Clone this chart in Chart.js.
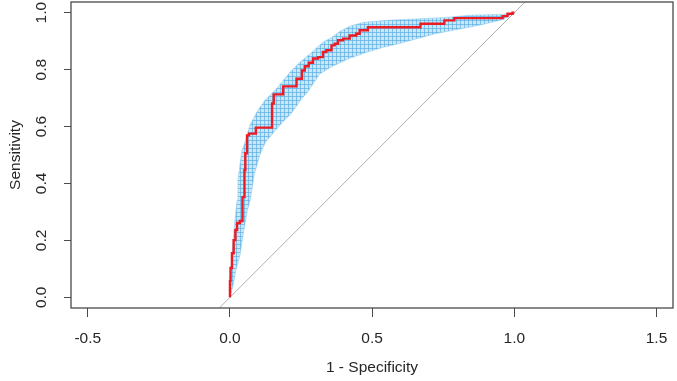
<!DOCTYPE html>
<html>
<head>
<meta charset="utf-8">
<script src="https://cdn.jsdelivr.net/npm/chart.js@4.4.1/dist/chart.umd.min.js"></script>
<style>
  html, body { margin: 0; padding: 0; background: #fff; }
</style>
</head>
<body>
<canvas id="roc" width="677" height="381"></canvas>
<script>
// ROC curve corner points (1 - specificity, sensitivity)
const rocFpr = [0, 0.002, 0.007, 0.013, 0.019, 0.025, 0.035, 0.044, 0.051, 0.054, 0.060, 0.067, 0.091, 0.148,
  0.154, 0.187, 0.234, 0.253, 0.263, 0.277, 0.292, 0.310, 0.327, 0.339, 0.357, 0.368, 0.380, 0.398, 0.421,
  0.444, 0.456, 0.485, 0.670, 0.754, 0.789, 0.959, 0.976, 0.994, 1.0];
const rocTpr = [0, 0.057, 0.103, 0.155, 0.201, 0.236, 0.261, 0.268, 0.352, 0.447, 0.506, 0.569, 0.575, 0.596,
  0.681, 0.713, 0.741, 0.768, 0.797, 0.812, 0.824, 0.839, 0.844, 0.862, 0.868, 0.885, 0.891, 0.903, 0.909,
  0.920, 0.926, 0.938, 0.949, 0.961, 0.973, 0.981, 0.988, 0.996, 1.0];

// bootstrap curves envelope (blue band), upper-left and lower-right edges
const bandUpperFpr = [0, 0, 0.007, 0.014, 0.025, 0.028, 0.042, 0.056, 0.070, 0.098, 0.123, 0.168, 0.211, 0.246,
  0.288, 0.326, 0.358, 0.386, 0.421, 0.470, 0.551, 0.632, 0.761, 0.842, 0.958, 1];
const bandUpperTpr = [0, 0.061, 0.149, 0.236, 0.341, 0.412, 0.517, 0.552, 0.605, 0.657, 0.692, 0.738, 0.791, 0.826,
  0.861, 0.896, 0.913, 0.934, 0.952, 0.966, 0.973, 0.977, 0.983, 0.991, 0.994, 1];
const bandLowerFpr = [0, 0.011, 0.021, 0.035, 0.049, 0.060, 0.072, 0.085, 0.105, 0.125, 0.150, 0.185, 0.215, 0.250,
  0.272, 0.316, 0.361, 0.421, 0.481, 0.537, 0.596, 0.726, 0.877, 0.961, 1];
const bandLowerTpr = [0, 0.043, 0.096, 0.148, 0.236, 0.300, 0.345, 0.430, 0.500, 0.545, 0.575, 0.615, 0.645, 0.695,
  0.720, 0.785, 0.812, 0.840, 0.861, 0.878, 0.892, 0.927, 0.956, 0.976, 1];

// chance diagonal y = x, drawn across the whole plot
const chanceEnds = [-0.6, 1.6];

const xTicks = [-0.5, 0, 0.5, 1, 1.5];
const yTicks = [0, 0.2, 0.4, 0.6, 0.8, 1];

const FONT = 'Liberation Sans, Arial, sans-serif';
const INK = '#262626';

// turn ROC points into a staircase (vertical then horizontal)
function stairs(xs, ys) {
  const pts = [{x: xs[0], y: ys[0]}];
  for (let i = 1; i < xs.length; i++) {
    pts.push({x: xs[i - 1], y: ys[i]});
    pts.push({x: xs[i], y: ys[i]});
  }
  return pts;
}

function bandPolygon() {
  const pts = bandUpperFpr.map((x, i) => ({x, y: bandUpperTpr[i]}));
  for (let i = bandLowerFpr.length - 1; i >= 0; i--) pts.push({x: bandLowerFpr[i], y: bandLowerTpr[i]});
  return pts;
}

function hatch() {
  const c = document.createElement('canvas');
  c.width = 4; c.height = 4;
  const g = c.getContext('2d');
  g.fillStyle = 'rgba(165,215,242,0.6)';
  g.fillRect(0, 0, 4, 4);
  g.fillStyle = 'rgba(85,172,228,0.65)';
  g.fillRect(0, 0, 4, 1);
  g.fillRect(0, 0, 1, 4);
  return g.createPattern(c, 'repeat');
}

const frameBox = {
  id: 'frameBox',
  afterDraw(chart) {
    const {ctx, chartArea: a} = chart;
    ctx.save();
    ctx.strokeStyle = '#4a4a4a';
    ctx.lineWidth = 1.3;
    ctx.strokeRect(a.left, a.top, a.right - a.left, a.bottom - a.top);
    ctx.restore();
  }
};

function noPad(s) { s.paddingTop = 0; s.paddingBottom = 0; s.paddingLeft = 0; s.paddingRight = 0; }

new Chart(document.getElementById('roc'), {
  type: 'scatter',
  data: {
    datasets: [
      {
        data: stairs(rocFpr, rocTpr),
        showLine: true,
        borderColor: '#ec1c24',
        borderWidth: 2.4,
        pointRadius: 0,
        order: 0
      },
      {
        data: chanceEnds.map(v => ({x: v, y: v})),
        showLine: true,
        borderColor: '#b0b0b0',
        borderWidth: 1,
        pointRadius: 0,
        order: 1
      },
      {
        data: bandPolygon(),
        showLine: true,
        fill: 'shape',
        backgroundColor: hatch(),
        borderColor: 'rgba(150,205,238,0.6)',
        borderWidth: 1,
        pointRadius: 0,
        order: 2
      }
    ]
  },
  options: {
    responsive: false,
    devicePixelRatio: 1,
    animation: false,
    layout: {padding: {top: 2, right: 4, left: 0, bottom: 0}},
    plugins: {legend: {display: false}, tooltip: {enabled: false}},
    scales: {
      x: {
        type: 'linear',
        min: -0.559,
        max: 1.558,
        afterBuildTicks: s => { s.ticks = xTicks.map(v => ({value: v})); },
        afterFit: s => { s.height = 73; noPad(s); },
        border: {display: false},
        grid: {drawOnChartArea: false, drawTicks: true, tickLength: 9, color: '#4a4a4a', lineWidth: 1},
        ticks: {
          color: INK, padding: 12, autoSkip: false, maxRotation: 0,
          font: {family: FONT, size: 15.5},
          callback: v => v.toFixed(1)
        },
        title: {display: true, text: '1 - Specificity', color: INK, padding: {top: 0, bottom: 4},
          font: {family: FONT, size: 15.5}}
      },
      y: {
        type: 'linear',
        min: -0.0375,
        max: 1.0375,
        afterBuildTicks: s => { s.ticks = yTicks.map(v => ({value: v})); },
        afterFit: s => { s.width = 71; noPad(s); },
        border: {display: false},
        grid: {drawOnChartArea: false, drawTicks: true, tickLength: 7, color: '#4a4a4a', lineWidth: 1},
        ticks: {
          color: INK, padding: 11.5, autoSkip: false, minRotation: 90, maxRotation: 90, crossAlign: 'center',
          font: {family: FONT, size: 15.5},
          callback: v => v.toFixed(1)
        },
        title: {display: true, text: 'Sensitivity', color: INK, padding: {top: 6.5, bottom: 0},
          font: {family: FONT, size: 15.5}}
      }
    }
  },
  plugins: [frameBox]
});
</script>
</body>
</html>
